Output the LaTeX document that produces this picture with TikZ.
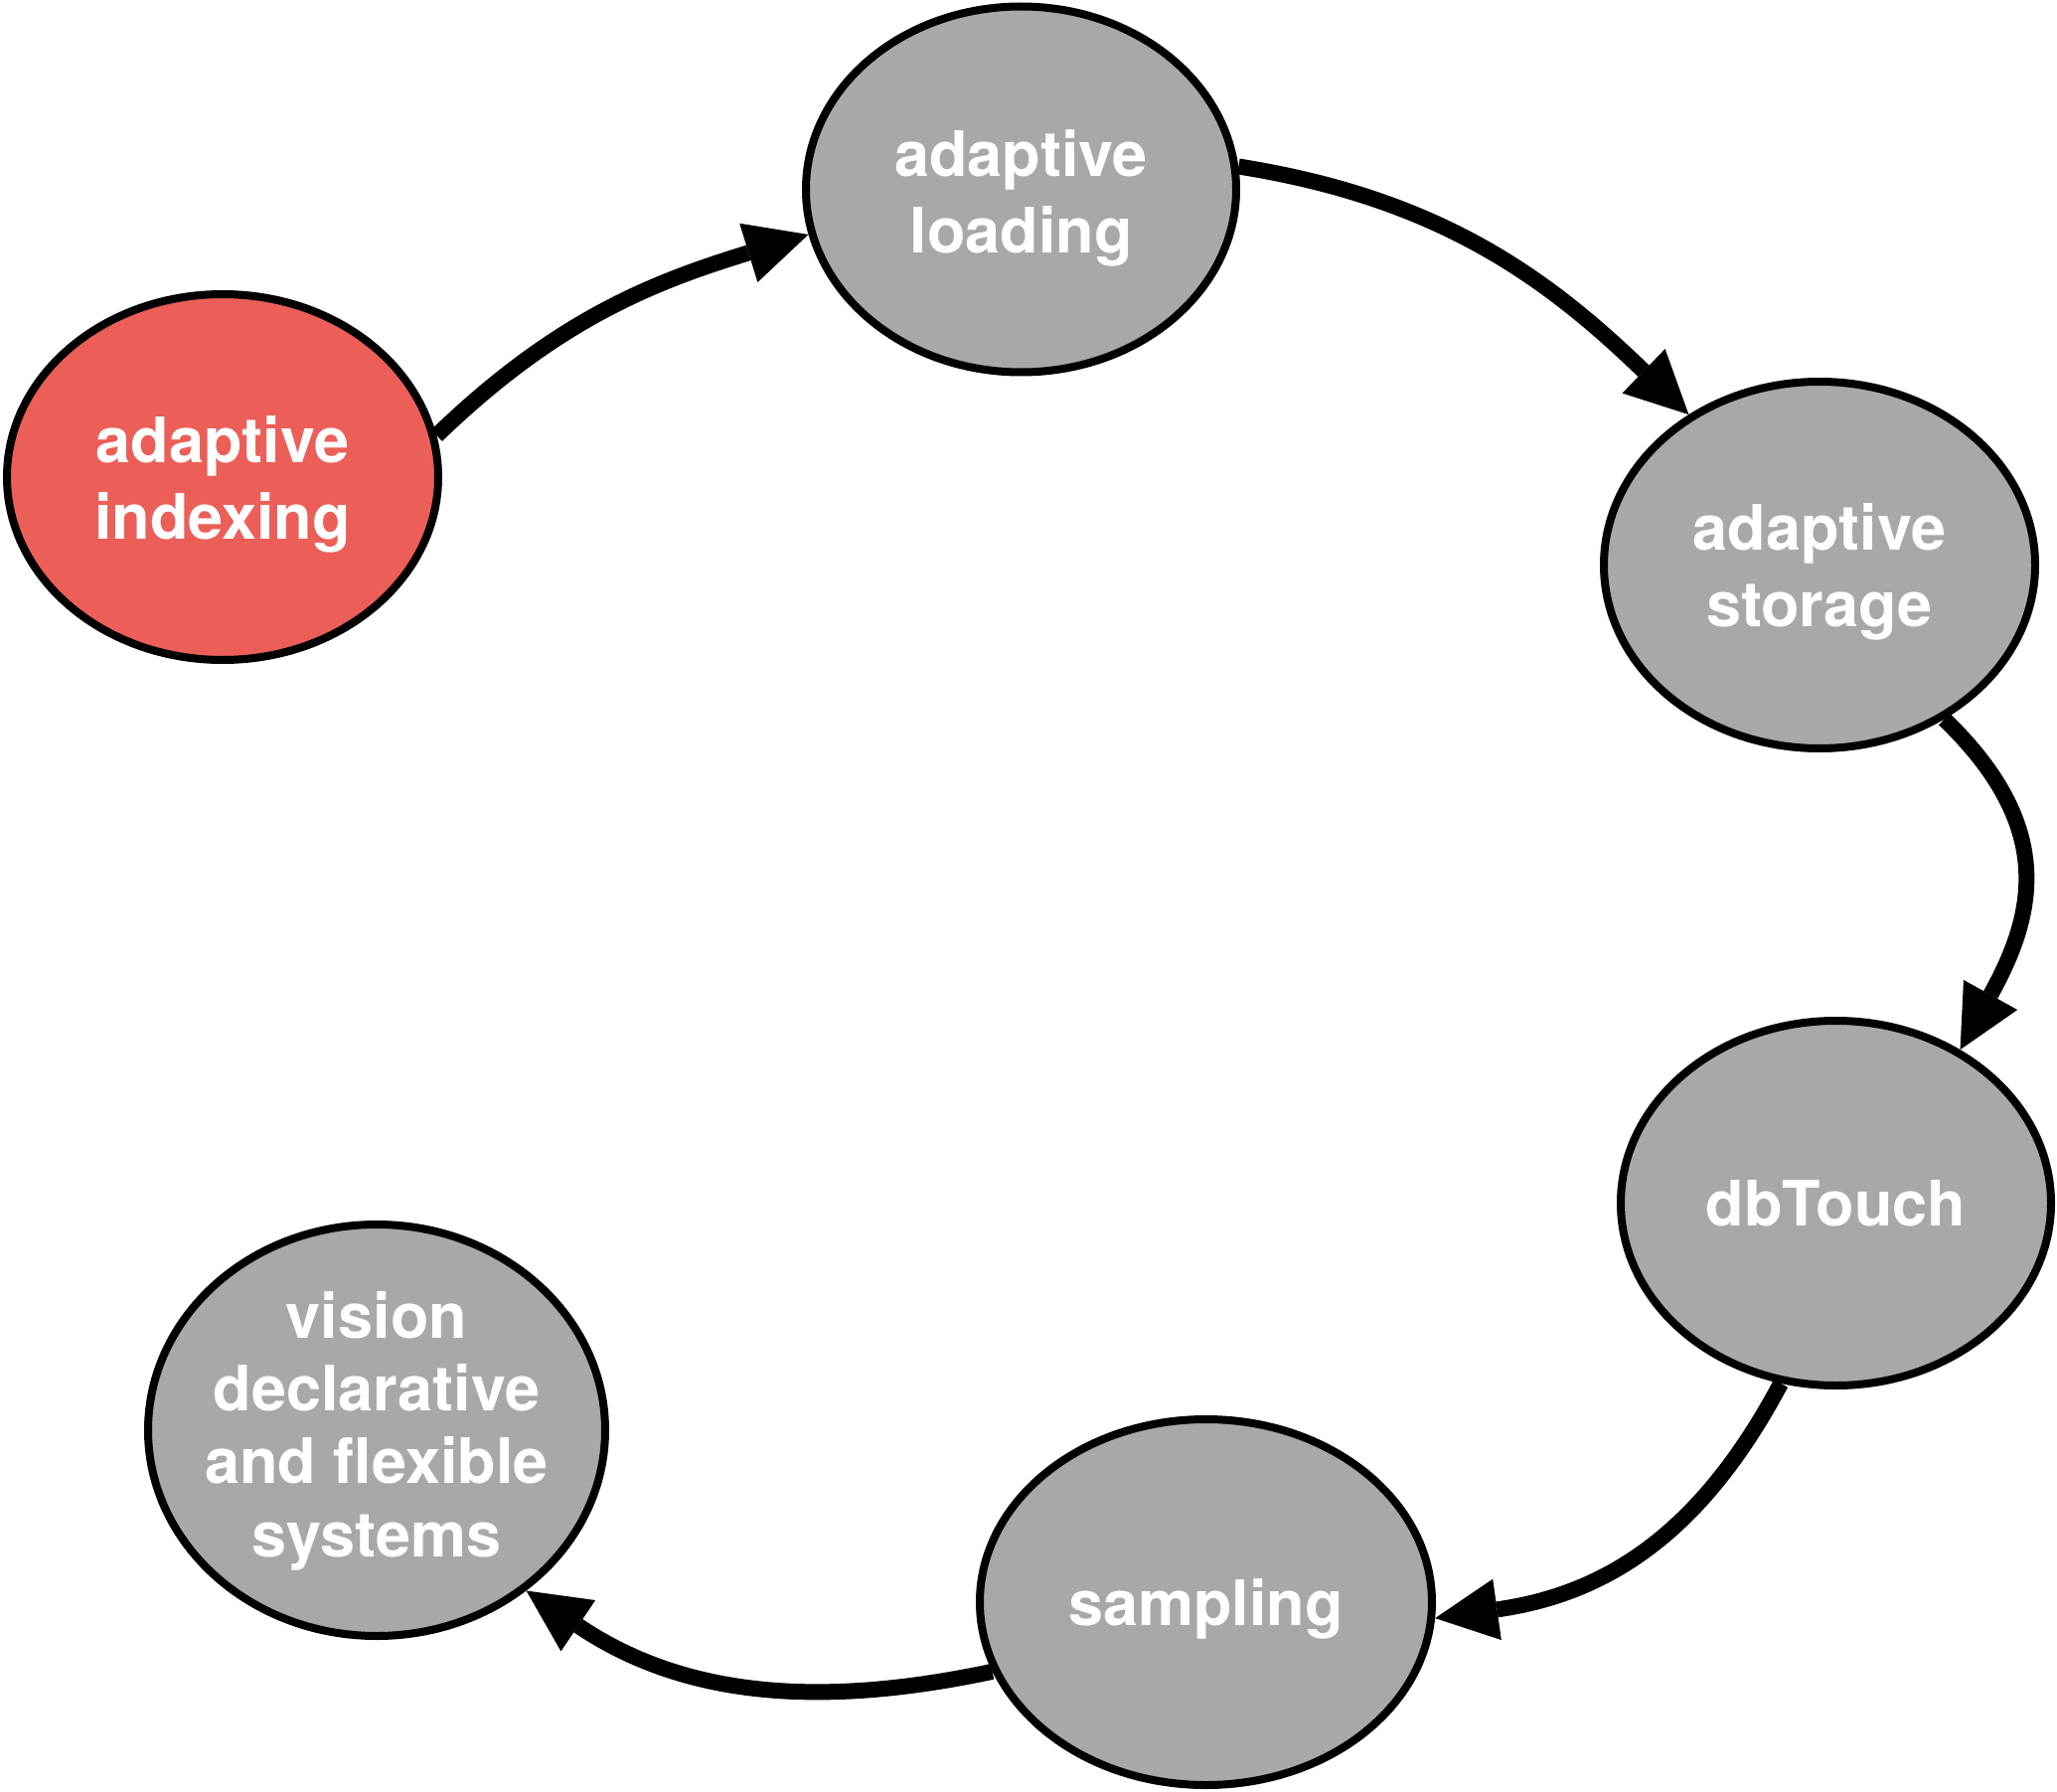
\documentclass[tikz,border=0pt]{standalone}
\usepackage{fontspec}
\setmainfont{TeX Gyre Heros}
\usetikzlibrary{arrows.meta,shapes.geometric}
\definecolor{nodered}{RGB}{236,94,88}
\definecolor{nodegray}{RGB}{166,169,167}
% struts fixing the top of the first line and the bottom of the last line
\newcommand\tstr{\rule{0pt}{0.8em}}
\newcommand\bstr{\rule[-0.25em]{0pt}{0.25em}}
\begin{document}
\begin{tikzpicture}[x=1pt,y=1pt,
  blob/.style={ellipse, draw=black, line width=8pt, fill=nodegray, inner sep=0pt},
  lbl/.style={text=white, font=\fontsize{63}{77}\selectfont\bfseries, align=center, inner sep=0pt},
  flow/.style={line width=16pt, -{Triangle[length=63pt,width=62pt,line width=0pt]}}]
\fill[white] (0,0) rectangle (2070,-1803);
\useasboundingbox (0,0) rectangle (2070,-1803);

% topics
\node[blob, fill=nodered, minimum width=434pt, minimum height=368pt] (e1) at (224,-480) {};
\node[blob, minimum width=433pt, minimum height=368pt] (e2) at (1027.5,-190.5) {};
\node[blob, minimum width=434pt, minimum height=369pt] (e3) at (1831,-568.5) {};
\node[blob, minimum width=433pt, minimum height=367pt] (e4) at (1847.5,-1210.5) {};
\node[blob, minimum width=455pt, minimum height=368pt] (e5) at (1213.5,-1612) {};
\node[blob, minimum width=460pt, minimum height=414pt] (e6) at (379,-1439) {};

% labels
\node[lbl] (t1) at ([yshift=-6.7pt]e1.center) {\tstr adaptive\\indexing\bstr};
\node[lbl] (t2) at ([yshift=-8.4pt]e2.center) {\tstr adaptive\\loading\bstr};
\node[lbl] (t3) at ([yshift=-5.7pt]e3.center) {\tstr adaptive\\storage\bstr};
\node[lbl] (t4) at ([yshift=-5.2pt]e4.center) {\tstr dbTouch\bstr};
\node[lbl] (t5) at ([yshift=-5.7pt]e5.center) {\tstr sampling\bstr};
\node[lbl, font=\fontsize{63}{73.3}\selectfont\bfseries] (t6) at (e6.center)
  {\tstr vision\\declarative\\and flexible\\systems\bstr};

% cycle of arrows
\draw[flow] (e1.11) to[out=44,in=197] (e2.192);
\draw[flow] (e2.6) to[out=-9,in=136] (e3.131);
\draw[flow] (e3.-51) to[out=-44,in=61,looseness=1.2] (e4.51);
\draw[flow] (e4.253) to[out=242,in=8,looseness=1.05] (e5.-4);
\draw[flow] (e5.198) to[out=192,in=-34] (e6.-47);
\end{tikzpicture}
\end{document}
